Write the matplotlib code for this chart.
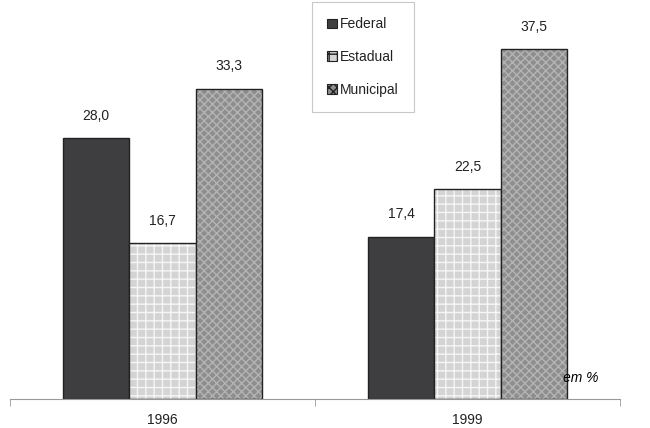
import numpy as np
import matplotlib.pyplot as plt
from matplotlib.patches import Patch

plt.rcParams['font.family'] = ['Liberation Sans', 'DejaVu Sans']

anos = ['1996', '1999']
series = ['Federal', 'Estadual', 'Municipal']
valores = {
    'Federal': [28.0, 17.4],
    'Estadual': [16.7, 22.5],
    'Municipal': [33.3, 37.5],
}
rotulos = {
    'Federal': ['28,0', '17,4'],
    'Estadual': ['16,7', '22,5'],
    'Municipal': ['33,3', '37,5'],
}

cores = {'Federal': '#3e3e40', 'Estadual': '#d4d4d4', 'Municipal': '#8e8e8e'}
hatches = {'Federal': None, 'Estadual': '++', 'Municipal': 'xxxx'}
hcores = {'Federal': '#3e3e40', 'Estadual': '#f6f6f6', 'Municipal': '#b4b4b4'}

fig = plt.figure(figsize=(6.5, 4.28), dpi=100)
ax = fig.add_axes([10/650, 1-399/428, 610/650, 399/428])

x = np.arange(len(anos))
w = 0.218
for i, s in enumerate(series):
    pos = x + (i - 1) * w
    # preenchimento com hachura clara, depois contorno escuro por cima
    ax.bar(pos, valores[s], w, color=cores[s], hatch=hatches[s],
           edgecolor=hcores[s], linewidth=0)
    ax.bar(pos, valores[s], w, fill=False, edgecolor='#222222', linewidth=1.0)
    for p, v, t in zip(pos, valores[s], rotulos[s]):
        ax.text(p, v + 2.4, t, ha='center', va='center', fontsize=10, color='#222222')

ax.set_xlim(-0.5, 1.5)
ax.set_ylim(0, 42.8)
ax.set_yticks([])
for sp in ['top', 'left', 'right']:
    ax.spines[sp].set_visible(False)
ax.spines['bottom'].set_color('#999999')
ax.set_xticks(x)
ax.set_xticklabels(anos, fontsize=10, color='#222222')
ax.tick_params(axis='x', which='major', length=0, pad=10)
ax.set_xticks([-0.5, 0.5, 1.5], minor=True)
ax.tick_params(axis='x', which='minor', length=5, color='#999999')

ax.text(1.428, 2.3, 'em %', fontsize=10, style='italic', ha='right', va='center')

handles = [Patch(facecolor=cores[s], hatch=hatches[s], edgecolor='#222222', linewidth=0.8)
           for s in series]
leg = fig.legend(handles, series, loc='upper left', bbox_to_anchor=(312/650, 1 - 2/428),
                 fontsize=10, frameon=True, fancybox=False, handlelength=0.7,
                 handleheight=0.7, handletextpad=0.2, labelspacing=1.35,
                 borderpad=1.1, borderaxespad=0)
leg.get_frame().set_edgecolor('#bbbbbb')
leg.get_frame().set_linewidth(0.8)
for t in leg.get_texts():
    t.set_color('#222222')

fig.savefig('out.png', dpi=100)
